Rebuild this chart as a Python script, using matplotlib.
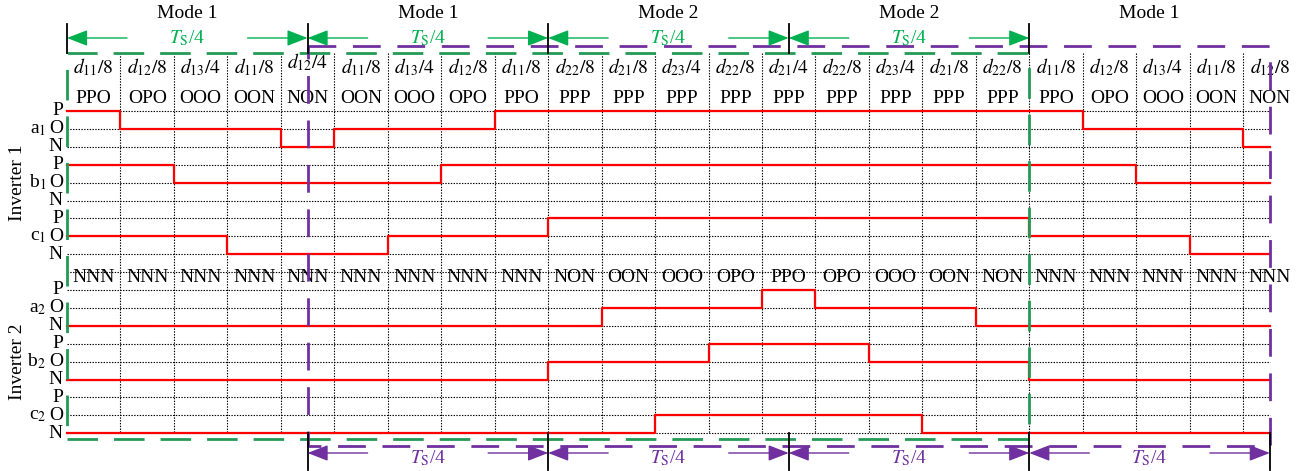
import matplotlib
matplotlib.use('Agg')
import matplotlib.pyplot as plt

plt.rcParams['font.family'] = ['Liberation Serif', 'DejaVu Serif']
plt.rcParams['mathtext.fontset'] = 'stix'
plt.rcParams['lines.scale_dashes'] = False

# ---- switching sequence data ----
duty_labels = ['d_{11}/8', 'd_{12}/8', 'd_{13}/4', 'd_{11}/8', 'd_{12}/4',
               'd_{11}/8', 'd_{13}/4', 'd_{12}/8', 'd_{11}/8',
               'd_{22}/8', 'd_{21}/8', 'd_{23}/4', 'd_{22}/8', 'd_{21}/4',
               'd_{22}/8', 'd_{23}/4', 'd_{21}/8', 'd_{22}/8',
               'd_{11}/8', 'd_{12}/8', 'd_{13}/4', 'd_{11}/8', 'd_{12}/8']
inv1_states = ['PPO', 'OPO', 'OOO', 'OON', 'NON', 'OON', 'OOO', 'OPO', 'PPO',
               'PPP', 'PPP', 'PPP', 'PPP', 'PPP', 'PPP', 'PPP', 'PPP', 'PPP',
               'PPO', 'OPO', 'OOO', 'OON', 'NON']
inv2_states = ['NNN', 'NNN', 'NNN', 'NNN', 'NNN', 'NNN', 'NNN', 'NNN', 'NNN',
               'NON', 'OON', 'OOO', 'OPO', 'PPO', 'OPO', 'OOO', 'OON', 'NON',
               'NNN', 'NNN', 'NNN', 'NNN', 'NNN']
mode_names = ['Mode 1', 'Mode 1', 'Mode 2', 'Mode 2', 'Mode 1']
section_edges = [0, 4.5, 9, 13.5, 18, 22.5]
phases = ['a', 'b', 'c']
levels = ['P', 'O', 'N']

# ---- layout (column width / row pitch in pixels) ----
COL = 53.46
ROW = 17.9
X0, Y0 = 67, 111
W, H = 1305, 471
n_cols = len(inv1_states)
x_end = section_edges[-1]
inv_row0 = [0, 10]          # first row of each inverter block

GREEN_ARROW = '#00B050'
GREEN_DASH = '#239B56'
PURPLE = '#7030A0'
RED = '#FF0000'
FS = 14

fig = plt.figure(figsize=(W / 100, H / 100), dpi=100)
ax = fig.add_axes([0, 0, 1, 1])
ax.set_xlim(-X0 / COL, (W - X0) / COL)
ax.set_ylim((H - Y0) / ROW, -Y0 / ROW)
ax.axis('off')

y_top_grid = (53 - Y0) / ROW
y_bot_grid = 18

# dotted grid
for k in range(19):
    ax.plot([0, x_end], [k, k], color='black', lw=0.8, ls=(0, (1, 1)), zorder=1)
for i in range(1, n_cols):
    ax.plot([i, i], [y_top_grid, y_bot_grid], color='black', lw=0.8,
            ls=(0, (1, 1)), zorder=1)

# waveforms
x_steps = list(range(n_cols)) + [x_end]
for inv, states in enumerate([inv1_states, inv2_states]):
    for j, ph in enumerate(phases):
        base = inv_row0[inv] + 3 * j
        ys = [base + levels.index(s[j]) for s in states]
        ys.append(ys[-1])
        ax.step(x_steps, ys, where='post', color=RED, lw=1.6, zorder=2)
        for m, lv in enumerate(levels):
            ax.text(-0.075, base + m + 0.25, lv, ha='right', va='baseline',
                    fontsize=FS, zorder=3)
        ax.text(-0.39, base + 1 + 0.25, r'%s$_{%d}$' % (ph, inv + 1),
                ha='right', va='baseline', fontsize=FS, zorder=3)
    ax.text(-0.917, inv_row0[inv] + 4, 'Inverter %d' % (inv + 1), rotation=90,
            ha='center', va='center', fontsize=FS, zorder=3)

# column labels
for i in range(n_cols):
    yb = -2.4 if i == 4 else -2.12
    ax.text(i + 0.5, yb, '$%s$' % duty_labels[i], ha='center', va='baseline',
            fontsize=FS, zorder=3)
    ax.text(i + 0.5, -0.447, inv1_states[i], ha='center', va='baseline',
            fontsize=FS, zorder=3)
    ax.text(i + 0.5, 9.55, inv2_states[i], ha='center', va='baseline',
            fontsize=FS, zorder=3)

# mode titles
green_secs = list(zip(section_edges[:-2], section_edges[1:-1]))
purple_secs = list(zip(section_edges[1:-1], section_edges[2:]))
mode_centers = [(a + b) / 2 for a, b in green_secs] + [(section_edges[-2] + section_edges[-1]) / 2]
for cx, name in zip(mode_centers, mode_names):
    ax.text(cx, -5.2, name, ha='center', va='baseline', fontsize=FS, zorder=3)

# dashed period frames
y_g_top, y_g_bot = (53 - Y0) / ROW, (439 - Y0) / ROW
y_p_top, y_p_bot = (46 - Y0) / ROW, (446 - Y0) / ROW
g0, g1 = section_edges[0], section_edges[-2]
p0, p1 = section_edges[1], section_edges[-1]
ax.plot([g0, g1, g1, g0, g0], [y_g_bot, y_g_bot, y_g_top, y_g_top, y_g_bot],
        color=GREEN_DASH, lw=2.0, dashes=(22, 11.5), zorder=4)
ax.plot([p0, p1, p1, p0, p0], [y_p_top, y_p_top, y_p_bot, y_p_bot, y_p_top],
        color=PURPLE, lw=2.0, dashes=(20, 12), zorder=4)

# boundary ticks
for xb in section_edges[:-1]:
    ax.plot([xb, xb], [(24 - Y0) / ROW, (53 - Y0) / ROW], color='black', lw=1.3, zorder=5)
for xb in section_edges[1:]:
    ax.plot([xb, xb], [(433 - Y0) / ROW, (470 - Y0) / ROW], color='black', lw=1.3, zorder=5)

# period arrows
arm = 60 / COL
def period_arrow(a, b, y, ytext, color):
    for tip, tail in [(a, a + arm), (b, b - arm)]:
        ax.annotate('', xy=(tip, y), xytext=(tail, y),
                    arrowprops=dict(arrowstyle='-|>,head_length=0.9,head_width=0.35',
                                    mutation_scale=14, color=color, lw=1.0,
                                    shrinkA=0, shrinkB=0),
                    zorder=5)
    ax.text((a + b) / 2, ytext, r'$T_{\rm S}$/4', ha='center', va='baseline',
            fontsize=FS, color=color, zorder=5)

for a, b in green_secs:
    period_arrow(a, b, (38 - Y0) / ROW, (43 - Y0) / ROW, GREEN_ARROW)
for a, b in purple_secs:
    period_arrow(a, b, (453 - Y0) / ROW, (463 - Y0) / ROW, PURPLE)

fig.savefig('out.png', dpi=100)
